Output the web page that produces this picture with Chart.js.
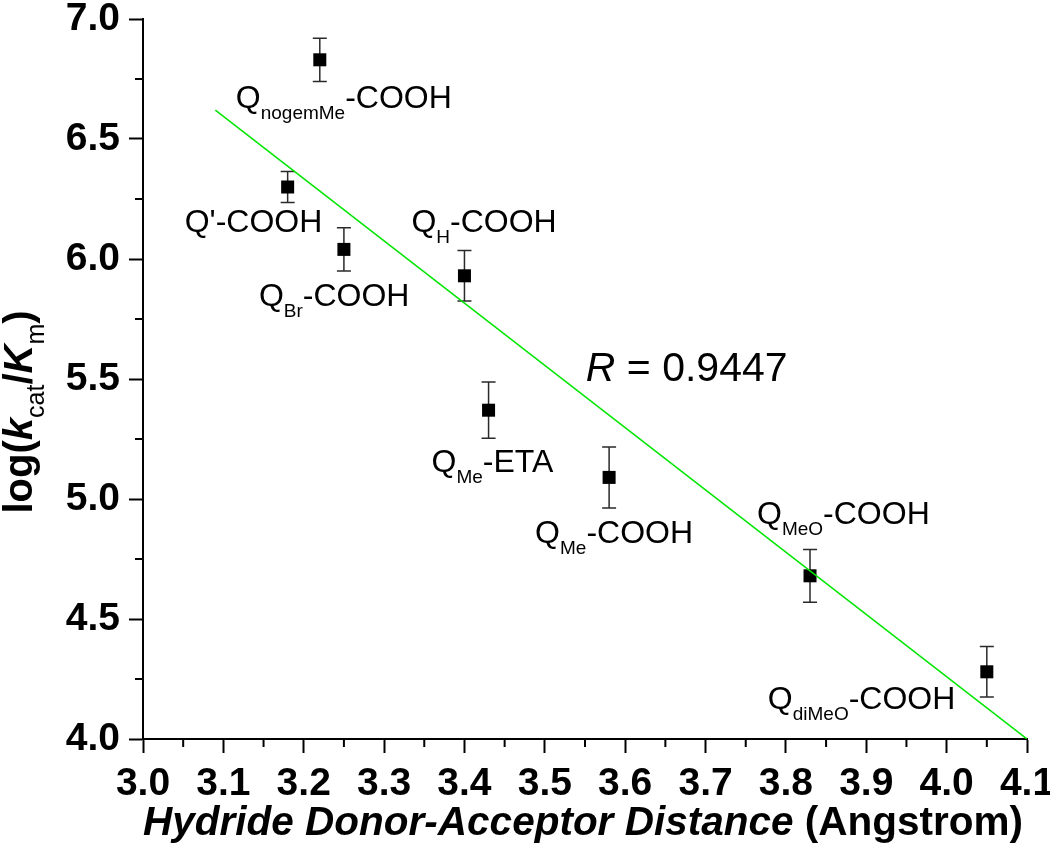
<!DOCTYPE html>
<html>
<head>
<meta charset="utf-8">
<title>log(kcat/Km) vs hydride donor-acceptor distance</title>
<script src="https://cdn.jsdelivr.net/npm/chart.js"></script>
<style>
  html, body { margin: 0; padding: 0; background: #fff; }
  #wrap { width: 1050px; height: 848px; }
</style>
</head>
<body>
<div id="wrap"><canvas id="distanceChart" width="1050" height="848"></canvas></div>
<script>
// values
const distances = [3.22, 3.18, 3.25, 3.40, 3.43, 3.58, 3.83, 4.05];
const logKcatKm = [6.83, 6.30, 6.04, 5.93, 5.37, 5.09, 4.68, 4.28];
const errBars = [0.09, 0.065, 0.09, 0.105, 0.117, 0.127, 0.11, 0.105];

// compound names: base, subscript, rest
const nameBase = ["Q", "Q'", "Q", "Q", "Q", "Q", "Q", "Q"];
const nameSub = ["nogemMe", "", "Br", "H", "Me", "Me", "MeO", "diMeO"];
const nameEnd = ["-COOH", "-COOH", "-COOH", "-COOH", "-ETA", "-COOH", "-COOH", "-COOH"];

// green fit line
const fitX = [3.09, 4.1];
const fitY = [6.62, 4.0];
const fitR = "0.9447";

const xTickValues = [3.0, 3.1, 3.2, 3.3, 3.4, 3.5, 3.6, 3.7, 3.8, 3.9, 4.0, 4.1];
const yTickValues = [4.0, 4.5, 5.0, 5.5, 6.0, 6.5, 7.0];

// where each name sits relative to its point (px)
const labelOffsets = [[-84, 48], [-103, 45], [-85, 57], [-53, -44], [-57, 62], [-74, 66], [-53, -52], [-219, 37]];

const FONT = "'Liberation Sans', Arial, Helvetica, sans-serif";

function richText(ctx, parts, x, y) {
  // parts: [text, font, dy]
  let cx = x;
  parts.forEach(([t, f, dy]) => {
    if (!t) return;
    ctx.font = f;
    ctx.fillText(t, cx, y + dy);
    cx += ctx.measureText(t).width;
  });
}
function richWidth(ctx, parts) {
  let w = 0;
  parts.forEach(([t, f]) => {
    if (!t) return;
    ctx.font = f;
    w += ctx.measureText(t).width;
  });
  return w;
}

const extras = {
  id: "extras",
  beforeDatasetsDraw(chart) {
    const { ctx, scales: { x, y } } = chart;
    ctx.save();
    ctx.strokeStyle = "#2a2a2a";
    ctx.lineWidth = 1.5;
    distances.forEach((d, i) => {
      const px = x.getPixelForValue(d);
      const top = y.getPixelForValue(logKcatKm[i] + errBars[i]);
      const bot = y.getPixelForValue(logKcatKm[i] - errBars[i]);
      ctx.beginPath();
      ctx.moveTo(px, top); ctx.lineTo(px, bot);
      ctx.moveTo(px - 7, top); ctx.lineTo(px + 7, top);
      ctx.moveTo(px - 7, bot); ctx.lineTo(px + 7, bot);
      ctx.stroke();
    });
    ctx.restore();
  },
  afterDraw(chart) {
    const { ctx, chartArea, scales: { x, y } } = chart;
    ctx.save();
    ctx.fillStyle = "#000";
    ctx.textBaseline = "alphabetic";
    ctx.textAlign = "left";

    // minor ticks
    ctx.strokeStyle = "#000";
    ctx.lineWidth = 2;
    ctx.beginPath();
    for (let i = 0; i < yTickValues.length - 1; i++) {
      const py = y.getPixelForValue((yTickValues[i] + yTickValues[i + 1]) / 2);
      ctx.moveTo(chartArea.left - 8, py); ctx.lineTo(chartArea.left, py);
    }
    for (let i = 0; i < xTickValues.length - 1; i++) {
      const px = x.getPixelForValue((xTickValues[i] + xTickValues[i + 1]) / 2);
      ctx.moveTo(px, chartArea.bottom); ctx.lineTo(px, chartArea.bottom + 8);
    }
    ctx.stroke();

    // compound names
    const big = "32px " + FONT, small = "19px " + FONT;
    distances.forEach((d, i) => {
      const px = x.getPixelForValue(d) + labelOffsets[i][0];
      const py = y.getPixelForValue(logKcatKm[i]) + labelOffsets[i][1];
      richText(ctx, [[nameBase[i], big, 0], [nameSub[i], small, 11], [nameEnd[i], big, 0]], px, py);
    });

    // R value
    richText(ctx, [["R", "italic 41px " + FONT, 0], [" = " + fitR, "41px " + FONT, 0]],
      x.getPixelForValue(3.551), y.getPixelForValue(5.492));

    // x title
    const xParts = [["Hydride Donor-Acceptor Distance", "italic bold 40.5px " + FONT, 0], [" (Angstrom)", "bold 40.5px " + FONT, 0]];
    const xw = richWidth(ctx, xParts);
    richText(ctx, xParts, (chartArea.left + chartArea.right) / 2 - xw / 2 - 2, chartArea.bottom + 96);

    // y title
    const yParts = [["log(", "bold 40px " + FONT, 0], ["k", "italic bold 40px " + FONT, 0], ["cat", "25px " + FONT, 12],
      ["/", "bold 40px " + FONT, 0], ["K", "italic bold 40px " + FONT, 0], ["m", "25px " + FONT, 12], [")", "bold 40px " + FONT, 0]];
    const yw = richWidth(ctx, yParts);
    ctx.translate(32, 412);
    ctx.rotate(-Math.PI / 2);
    richText(ctx, yParts, -yw / 2, 0);
    ctx.restore();
  }
};

const ctx = document.getElementById("distanceChart");
new Chart(ctx, {
  data: {
    datasets: [
      {
        type: "line",
        data: fitX.map((v, i) => ({ x: v, y: fitY[i] })),
        borderColor: "rgb(0,230,0)",
        borderWidth: 1.5,
        pointRadius: 0,
        fill: false,
        order: 0,
      },
      {
        type: "scatter",
        data: distances.map((v, i) => ({ x: v, y: logKcatKm[i] })),
        pointStyle: "rect",
        pointRadius: 9.2,
        backgroundColor: "#000",
        borderColor: "#000",
        borderWidth: 0,
        order: 1,
      },
    ],
  },
  options: {
    responsive: false,
    animation: false,
    layout: { padding: { top: 19, right: 23, left: 0, bottom: 0 } },
    plugins: { legend: { display: false }, tooltip: { enabled: false } },
    scales: {
      x: {
        type: "linear",
        min: 3.0,
        max: 4.1,
        afterBuildTicks: (s) => { s.ticks = xTickValues.map((v) => ({ value: v })); },
        afterFit: (s) => { s.height = 109; s.paddingLeft = 0; s.paddingRight = 0; },
        grid: { drawOnChartArea: false, drawTicks: true, tickLength: 14, tickWidth: 2, tickColor: "#000" },
        border: { display: true, color: "#000", width: 2 },
        ticks: {
          color: "#000", padding: 8, maxRotation: 0, autoSkip: false,
          font: { family: FONT, size: 39, weight: "bold" },
          callback: (v) => Number(v).toFixed(1),
        },
      },
      y: {
        type: "linear",
        min: 4.0,
        max: 7.0,
        afterBuildTicks: (s) => { s.ticks = yTickValues.map((v) => ({ value: v })); },
        afterFit: (s) => { s.width = 143; s.paddingTop = 0; s.paddingBottom = 0; },
        grid: { drawOnChartArea: false, drawTicks: true, tickLength: 14, tickWidth: 2, tickColor: "#000" },
        border: { display: true, color: "#000", width: 2 },
        ticks: {
          color: "#000", padding: 9, autoSkip: false,
          font: { family: FONT, size: 39, weight: "bold" },
          callback: (v) => Number(v).toFixed(1),
        },
      },
    },
  },
  plugins: [extras],
});
</script>
</body>
</html>
